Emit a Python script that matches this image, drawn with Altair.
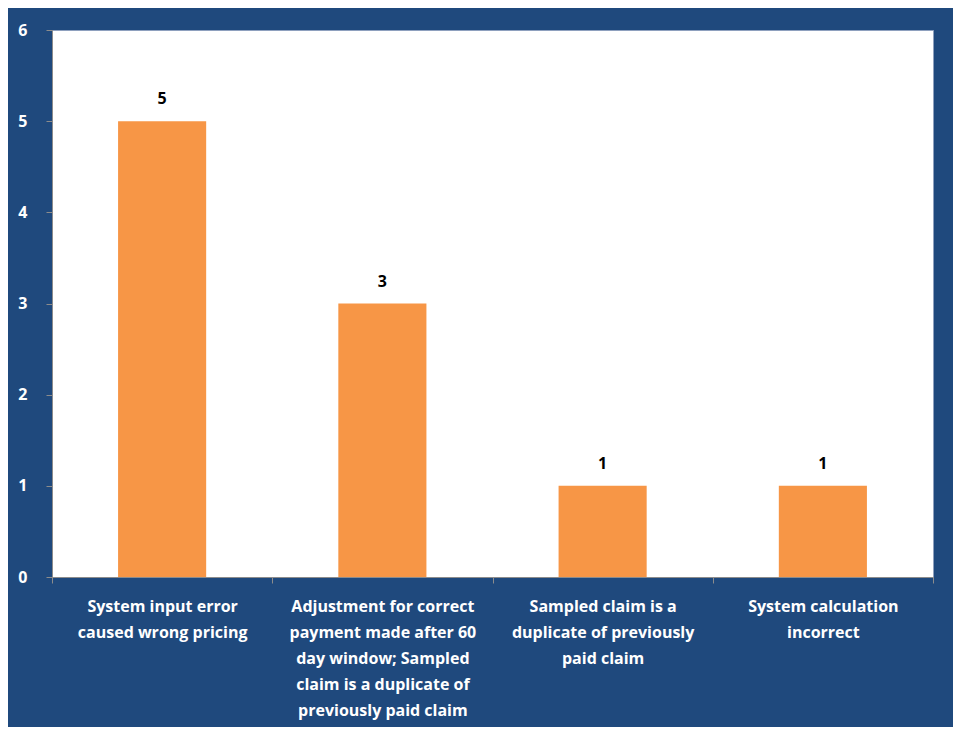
import altair as alt
import pandas as pd

categories = [
    "System input error\ncaused wrong pricing",
    "Adjustment for correct\npayment made after 60\nday window; Sampled\nclaim is a duplicate of\npreviously paid claim",
    "Sampled claim is a\nduplicate of previously\npaid claim",
    "System calculation\nincorrect",
]
values = [5, 3, 1, 1]

df = pd.DataFrame({"category": categories, "count": values})

FONT = "Open Sans"
BG = "#1F497D"
BAR = "#F79646"
GRAY = "#8C8C8C"

x = alt.X(
    "category:N",
    sort=None,
    title=None,
    scale=alt.Scale(paddingInner=0, paddingOuter=0),
    axis=alt.Axis(
        labelExpr="split(datum.label, '\\n')",
        labelAngle=0,
        labelColor="white",
        labelFont=FONT,
        labelFontSize=16,
        labelFontWeight="bold",
        labelLineHeight=26,
        labelPadding=15,
        labelAlign="center",
        labelBaseline="top",
        tickBand="extent",
        tickColor=GRAY,
        tickSize=6,
        domainColor=GRAY,
        labelLimit=300,
    ),
)
y = alt.Y(
    "count:Q",
    title=None,
    scale=alt.Scale(domain=[0, 6]),
    axis=alt.Axis(
        values=[0, 1, 2, 3, 4, 5, 6],
        format="d",
        grid=False,
        labelColor="white",
        labelFont=FONT,
        labelFontSize=16,
        labelFontWeight="bold",
        labelPadding=19,
        tickColor=GRAY,
        tickSize=6,
        domainColor=GRAY,
    ),
)

bars = alt.Chart(df).mark_bar(color=BAR, width=alt.RelativeBandSize(0.4)).encode(x=x, y=y)
labels = alt.Chart(df).mark_text(
    font=FONT, fontSize=16, fontWeight="bold", color="black", baseline="bottom", dy=-14
).encode(x=alt.X("category:N", sort=None), y="count:Q", text="count:Q")

chart = (
    alt.layer(bars, labels)
    .properties(
        width=881,
        height=547,
        background=BG,
        padding={"left": 44, "top": 22, "right": 20, "bottom": 150},
        autosize=alt.AutoSizeParams(type="none"),
    )
    .configure_view(fill="white", stroke="#8EA0BE", strokeWidth=1)
)

chart.save("out.html", embed_options={"renderer": "svg", "actions": False})
